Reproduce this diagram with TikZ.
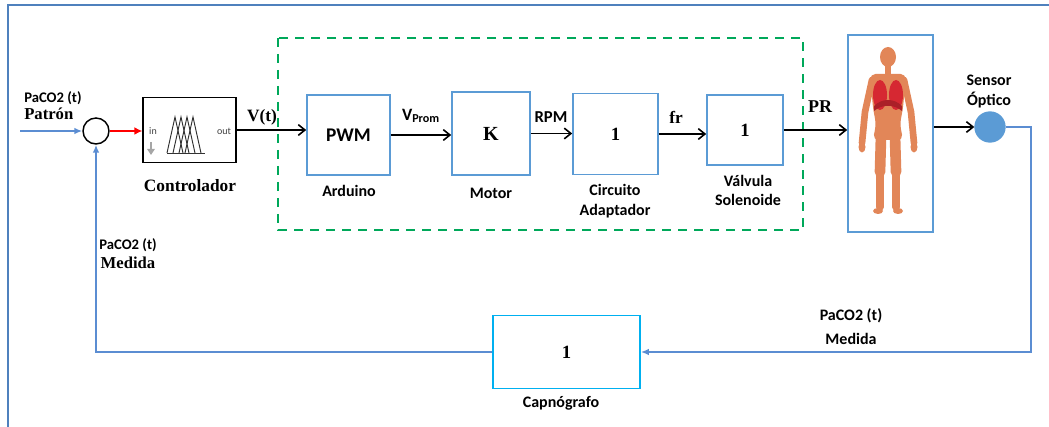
\documentclass[tikz,border=0pt]{standalone}
\usepackage{fontspec}
\setmainfont{Liberation Serif}
\newfontfamily\lbl{Carlito}
\usetikzlibrary{arrows.meta}
\definecolor{frameblue}{RGB}{79,129,189}
\definecolor{boxblue}{RGB}{91,155,213}
\definecolor{capblue}{RGB}{0,176,240}
\definecolor{linkblue}{RGB}{91,141,210}
\definecolor{grpgreen}{RGB}{0,168,90}
\definecolor{skin}{RGB}{226,134,88}
\definecolor{lung}{RGB}{214,40,50}
\definecolor{sensorfill}{RGB}{91,155,213}
\begin{document}
\begin{tikzpicture}[x=0.75pt,y=-0.75pt,
  blk/.style={draw=boxblue,line width=1.2pt,fill=white,inner sep=0pt},
  ser/.style={font=\bfseries\fontsize{13}{14}\selectfont,inner sep=0pt},
  sans/.style={font=\lbl\bfseries\fontsize{12}{13}\selectfont,inner sep=0pt},
  sig/.style={line width=1.4pt,-{Straight Barb[length=5pt,width=8pt,line width=1.2pt]}},
  fb/.style={draw=linkblue,line width=1.3pt},
  fbarrow/.style={fb,-{Latex[length=6pt,width=5pt]}},
  grp/.style={draw=grpgreen,line width=1.6pt,dash pattern=on 7pt off 5pt}]
\useasboundingbox (0,0) rectangle (1049,427);

% outer frame
\draw[frameblue,line width=1.6pt] (8,427) -- (8,5) -- (1049,5);

% controller group
\draw[grp] (278,38) rectangle (803,230);

% blocks
\node[draw=black,circle,line width=1.1pt,minimum size=26*0.75pt,inner sep=0pt] (sum) at (96,131) {};
\node[draw=black,line width=1pt,minimum width=93*0.75pt,minimum height=65*0.75pt,inner sep=0pt] (ctrl) at (189.5,130) {};
\node[blk,minimum width=83*0.75pt,minimum height=80*0.75pt,font=\lbl\bfseries\fontsize{14.5}{15}\selectfont] (pwm) at (348.5,135) {PWM};
\node[blk,minimum width=78*0.75pt,minimum height=83*0.75pt,font=\bfseries\fontsize{15}{16}\selectfont] (kbox) at (491,133.5) {K};
\node[blk,minimum width=85*0.75pt,minimum height=81*0.75pt,font=\bfseries\fontsize{14}{15}\selectfont] (adap) at (615.5,134) {1};
\node[blk,minimum width=76*0.75pt,minimum height=70*0.75pt,font=\bfseries\fontsize{14}{15}\selectfont] (valv) at (745,130) {1};
\node[blk,minimum width=85*0.75pt,minimum height=197*0.75pt] (body) at (890.5,133.5) {};
\node[draw=boxblue,fill=sensorfill,circle,line width=1pt,minimum size=30*0.75pt,inner sep=0pt] (sensor) at (990,127) {};
\node[draw=capblue,line width=1.3pt,minimum width=147*0.75pt,minimum height=73*0.75pt,inner sep=0pt,font=\bfseries\fontsize{14}{15}\selectfont] (capno) at (566.5,352) {1};

% fuzzy controller icon
\node[font=\lbl\fontsize{7.5}{8}\selectfont,text=black!75,inner sep=0pt] (cin) at (153,131) {in};
\node[font=\lbl\fontsize{7.5}{8}\selectfont,text=black!75,inner sep=0pt] (cout) at (224,131) {out};
\draw[line width=0.7pt,black!80] (167,153) -- (205,153);
\foreach \p in {175,181,187,193}
  \draw[line width=0.7pt,black!80] (\p-8,153) -- (\p,117) -- (\p+8,153);
\draw[black!35,line width=1.1pt] (151,142) -- (151,151);
\fill[black!35] (147,149) -- (155,149) -- (151,155) -- cycle;

% human figure
\begin{scope}
  \fill[skin] (888,57) ellipse (8 and 10);
  \fill[skin] (885,64) rectangle (891,74);
  \fill[skin,rounded corners=4pt] (870,74) -- (906,74) -- (903,108) -- (900,124) -- (903,140) -- (873,140) -- (876,124) -- (873,108) -- cycle;
  \draw[skin,line width=5pt,line cap=round,line join=round] (872,80) -- (865,112) -- (862,143);
  \draw[skin,line width=5pt,line cap=round,line join=round] (904,80) -- (911,112) -- (914,143);
  \fill[skin] (862,147) ellipse (3.5 and 5.5);
  \fill[skin] (914,147) ellipse (3.5 and 5.5);
  \draw[skin,line width=8pt,line cap=round] (881,136) -- (880,172);
  \draw[skin,line width=8pt,line cap=round] (895,136) -- (896,172);
  \draw[skin,line width=5.5pt,line cap=round] (880,172) -- (880,207);
  \draw[skin,line width=5.5pt,line cap=round] (896,172) -- (896,207);
  \fill[skin] (878,211) ellipse (5 and 3);
  \fill[skin] (898,211) ellipse (5 and 3);
  \fill[lung] (880,95) ellipse (7 and 15);
  \fill[lung] (896,95) ellipse (7 and 15);
  \fill[lung!80!black] (874,106) .. controls (882,98) and (894,98) .. (902,106) -- (902,111) .. controls (894,104) and (882,104) .. (874,111) -- cycle;
\end{scope}

% forward signal path
\coordinate (src) at (20,131);
\draw[fb,-{Latex[length=6pt,width=5pt]}] (src) -- (sum.west);
\draw[red,line width=2pt,-{Latex[length=6pt,width=6pt]}] (sum.east) -- (ctrl.west |- sum.east);
\draw[sig] (ctrl.east) -- (ctrl.east -| pwm.west);
\draw[sig] (pwm.east) -- (pwm.east -| kbox.west);
\draw[sig] (kbox.east) -- (kbox.east -| adap.west);
\draw[sig] (adap.east) -- (adap.east -| valv.west);
\draw[sig] (valv.east) -- (valv.east -| body.west);
\draw[sig] (body.east |- sensor.west) -- (sensor.west);

% feedback path
\coordinate (c1) at (1031,127);
\coordinate (c2) at (1031,352);
\draw[fbarrow] (sensor.east) -- (c1) -- (c2) -- (capno.east);
\draw[fbarrow] (capno.west) -- (sum.south |- capno.west) -- (sum.south);

% labels
\node[anchor=west,font=\lbl\bfseries\fontsize{11}{12}\selectfont,inner sep=0pt] (l1) at (24,98) {PaCO2 (t)};
\node[anchor=west,ser,font=\bfseries\fontsize{12.5}{13}\selectfont] (l2) at (24,114) {Patrón};
\node[ser] (l3) at (190,186) {Controlador};
\node[ser] (l4) at (262,117) {V(t)};
\node[sans] (l5) at (349,191) {Arduino};
\node[font=\lbl\bfseries\fontsize{13}{14}\selectfont,inner sep=0pt] (l6) at (421,116) {V\textsubscript{Prom}};
\node[sans] (l7) at (491,193) {Motor};
\node[sans,font=\lbl\bfseries\fontsize{12.5}{13}\selectfont] (l8) at (551,117) {RPM};
\node[sans] (l9) at (615,190) {Circuito};
\node[sans] (l10) at (615,211) {Adaptador};
\node[ser] (l11) at (676,117) {fr};
\node[sans] (l12) at (748,181) {Válvula};
\node[sans] (l13) at (748,200) {Solenoide};
\node[ser,font=\bfseries\fontsize{13.5}{14}\selectfont] (l14) at (820,107) {PR};
\node[sans] (l15) at (989,80) {Sensor};
\node[sans] (l16) at (989,100) {Óptico};
\node[sans] (l17) at (851,316) {PaCO2 (t)};
\node[sans] (l18) at (851,339) {Medida};
\node[font=\lbl\bfseries\fontsize{11}{12}\selectfont,inner sep=0pt] (l19) at (128,245) {PaCO2 (t)};
\node[ser,font=\bfseries\fontsize{12.5}{13}\selectfont] (l20) at (128,263) {Medida};
\node[sans] (l21) at (561,403) {Capnógrafo};
\end{tikzpicture}
\end{document}
